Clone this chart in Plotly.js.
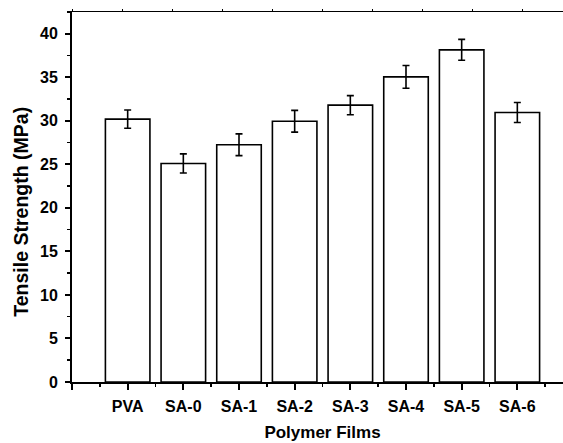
<!DOCTYPE html>
<html>
<head>
<meta charset="utf-8">
<script src="https://cdn.plot.ly/plotly-3.0.1.min.js"></script>
<style>
html,body{margin:0;padding:0;overflow:hidden;background:#fff;width:563px;height:443px;}
#chart{width:600px;height:443px;}
</style>
</head>
<body>
<div id="chart"></div>
<script>
var categories = ["PVA","SA-0","SA-1","SA-2","SA-3","SA-4","SA-5","SA-6"];
var strength = [30.2, 25.1, 27.25, 29.95, 31.8, 35.05, 38.15, 30.95];
var errors = [1.05, 1.1, 1.25, 1.25, 1.1, 1.3, 1.2, 1.15];
var yTickVals = [0,5,10,15,20,25,30,35,40];
var xTitle = "Polymer Films";
var yTitle = "Tensile Strength (MPa)";

var positions = categories.map(function(c,i){return i;});
var fam = "Liberation Sans, Arial, sans-serif";
var tickFont = {family:fam, size:16, color:"#000", weight:"bold"};
var xTitleFont = {family:fam, size:17, color:"#000", weight:"bold"};
var yTitleFont = {family:fam, size:19.5, color:"#000", weight:"bold"};

var traces = [
  {
    type:"bar",
    x: positions,
    y: strength,
    width: 0.8,
    marker:{color:"#ffffff", line:{color:"#000", width:1.6}},
    error_y:{type:"data", array: errors, visible:true, color:"#000", thickness:1.6, width:3.5},
    hoverinfo:"none",
    showlegend:false
  },
  {
    type:"scatter", x:[], y:[], xaxis:"x2", showlegend:false, hoverinfo:"none"
  }
];

var layout = {
  width:600, height:443,
  margin:{l:72, r:27, t:12, b:61},
  paper_bgcolor:"#fff", plot_bgcolor:"#fff",
  font: tickFont,
  showlegend:false,
  xaxis:{
    type:"linear",
    range:[-1, 8],
    tickmode:"array",
    tickvals:[-1].concat(positions),
    ticktext:[""].concat(categories),
    ticks:"outside", ticklen:6, tickwidth:2, tickcolor:"#000",
    minor:{tickmode:"linear", tick0:-0.5, dtick:1, ticks:"outside", ticklen:3, tickwidth:1.5, tickcolor:"#000", showgrid:false},
    showline:true, linewidth:2, linecolor:"#000",
    showgrid:false, zeroline:false,
    tickfont: tickFont,
    ticklabelstandoff: 3,
    title:{text:xTitle, font: xTitleFont, standoff: 12},
    fixedrange:true
  },
  xaxis2:{
    overlaying:"x", side:"top", type:"linear",
    range:[0,10], dtick:1, tick0:0,
    ticks:"outside", ticklen:2, tickwidth:1, tickcolor:"#000",
    showticklabels:false,
    showline:true, linewidth:1.5, linecolor:"#000",
    showgrid:false, zeroline:false
  },
  yaxis:{
    range:[0, 42.5],
    tickmode:"array", tickvals: yTickVals,
    ticks:"outside", ticklen:5, tickwidth:2, tickcolor:"#000",
    minor:{tickmode:"linear", tick0:2.5, dtick:5, ticks:"outside", ticklen:3, tickwidth:1.5, tickcolor:"#000", showgrid:false},
    showline:true, linewidth:2, linecolor:"#000",
    showgrid:false, zeroline:false,
    tickfont: tickFont,
    ticklabelstandoff: 4,
    fixedrange:true
  },
  annotations:[{
    text: yTitle, font: yTitleFont, textangle:-90,
    xref:"paper", yref:"paper", x:-0.102, y:0.46,
    xanchor:"center", yanchor:"middle", showarrow:false
  }]
};

Plotly.newPlot("chart", traces, layout, {displayModeBar:false, staticPlot:true});
</script>
</body>
</html>
